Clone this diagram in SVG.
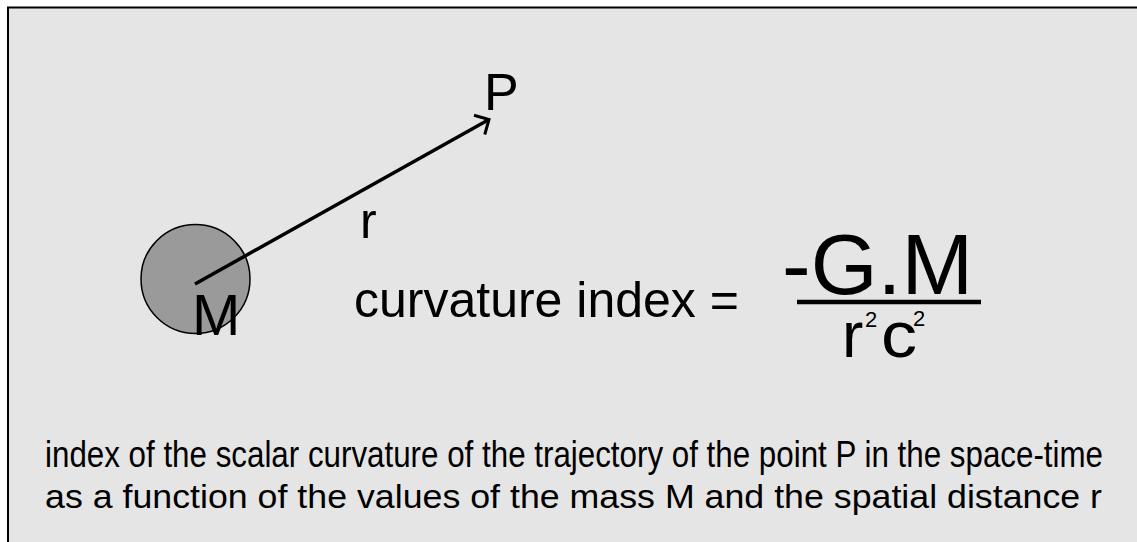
<svg xmlns="http://www.w3.org/2000/svg" width="1137" height="542" viewBox="0 0 1137 542">
<style>
text{font-family:"Liberation Sans",Arial,sans-serif;fill:#000}
.conn{stroke:#000;stroke-width:3.5;fill:none}
</style>
<defs>
<marker id="open" markerUnits="userSpaceOnUse" viewBox="-14 -14 16 28" refX="0" refY="0" markerWidth="16" markerHeight="28" orient="auto">
<path d="M -11 -11 L 0 0 L -11 11" fill="none" stroke="#000" stroke-width="3"/>
</marker>
</defs>
<rect x="0" y="0" width="1137" height="542" fill="#ffffff"/>
<rect x="8" y="7.5" width="1140" height="540" fill="#e5e5e5" stroke="#000" stroke-width="2"/>
<g id="mass">
<circle cx="195.5" cy="279" r="54.5" fill="#9a9a9a" stroke="#000" stroke-width="1.5"/>
</g>
<g id="connectors">
<line class="conn" x1="195" y1="284" x2="489" y2="119.5" marker-end="url(#open)"/>
</g>
<g id="mass-label">
<text x="192" y="335" font-size="58">M</text>
</g>
<g id="point-P">
<text x="484" y="110" font-size="52">P</text>
</g>
<g id="distance-r">
<text x="360" y="238" font-size="50">r</text>
</g>
<g id="formula">
<text x="354" y="317" font-size="50">curvature index =</text>
<text x="782" y="294" font-size="86">-G.M</text>
<line x1="797" y1="302" x2="981" y2="302" stroke="#000" stroke-width="4.5"/>
<text x="842" y="357" font-size="64">r</text>
<text x="865" y="327" font-size="22">2</text>
<text x="881" y="357" font-size="64" textLength="36" lengthAdjust="spacingAndGlyphs">c</text>
<text x="913" y="326" font-size="22">2</text>
</g>
<g id="caption">
<text x="45" y="467" font-size="37" textLength="1058" lengthAdjust="spacingAndGlyphs">index of the scalar curvature of the trajectory of the point P in the space-time</text>
<text x="45" y="508" font-size="34" textLength="1057" lengthAdjust="spacingAndGlyphs">as a function of the values of the mass M and the spatial distance r</text>
</g>
</svg>
